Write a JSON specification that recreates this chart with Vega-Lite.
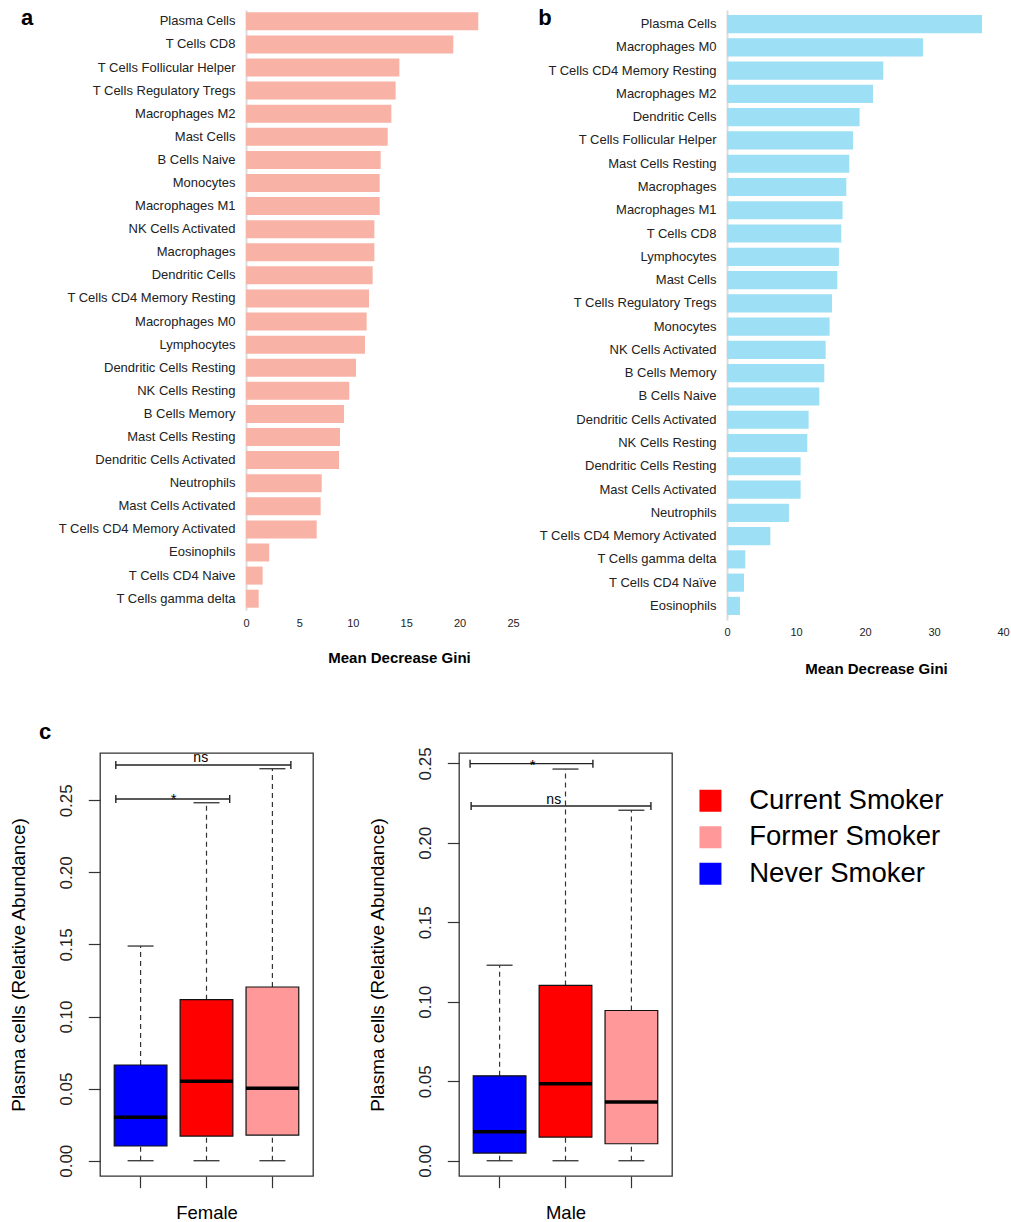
{
  "$schema": "https://vega.github.io/schema/vega-lite/v6.json",
  "padding": {"left": 8, "top": 6, "right": 0, "bottom": 0},
  "config": {
    "font": "Liberation Sans",
    "view": {"stroke": null},
    "axis": {"grid": false},
    "title": {"color": "#000"}
  },
  "datasets": {
    "giniA": [
      {"cell": "Plasma Cells", "gini": 21.75},
      {"cell": "T Cells CD8", "gini": 19.41},
      {"cell": "T Cells Follicular Helper", "gini": 14.36},
      {"cell": "T Cells Regulatory Tregs", "gini": 14.01},
      {"cell": "Macrophages M2", "gini": 13.61},
      {"cell": "Mast Cells", "gini": 13.27},
      {"cell": "B Cells Naive", "gini": 12.61},
      {"cell": "Monocytes", "gini": 12.52},
      {"cell": "Macrophages M1", "gini": 12.52},
      {"cell": "NK Cells Activated", "gini": 12.02},
      {"cell": "Macrophages", "gini": 12.02},
      {"cell": "Dendritic Cells", "gini": 11.86},
      {"cell": "T Cells CD4 Memory Resting", "gini": 11.52},
      {"cell": "Macrophages M0", "gini": 11.30},
      {"cell": "Lymphocytes", "gini": 11.14},
      {"cell": "Dendritic Cells Resting", "gini": 10.30},
      {"cell": "NK Cells Resting", "gini": 9.67},
      {"cell": "B Cells Memory", "gini": 9.18},
      {"cell": "Mast Cells Resting", "gini": 8.80},
      {"cell": "Dendritic Cells Activated", "gini": 8.71},
      {"cell": "Neutrophils", "gini": 7.09},
      {"cell": "Mast Cells Activated", "gini": 6.99},
      {"cell": "T Cells CD4 Memory Activated", "gini": 6.62},
      {"cell": "Eosinophils", "gini": 2.17},
      {"cell": "T Cells CD4 Naive", "gini": 1.56},
      {"cell": "T Cells gamma delta", "gini": 1.19}
    ],
    "giniB": [
      {"cell": "Plasma Cells", "gini": 36.96},
      {"cell": "Macrophages M0", "gini": 28.41},
      {"cell": "T Cells CD4 Memory Resting", "gini": 22.65},
      {"cell": "Macrophages M2", "gini": 21.16},
      {"cell": "Dendritic Cells", "gini": 19.22},
      {"cell": "T Cells Follicular Helper", "gini": 18.26},
      {"cell": "Mast Cells Resting", "gini": 17.72},
      {"cell": "Macrophages", "gini": 17.29},
      {"cell": "Macrophages M1", "gini": 16.75},
      {"cell": "T Cells CD8", "gini": 16.56},
      {"cell": "Lymphocytes", "gini": 16.22},
      {"cell": "Mast Cells", "gini": 15.99},
      {"cell": "T Cells Regulatory Tregs", "gini": 15.22},
      {"cell": "Monocytes", "gini": 14.87},
      {"cell": "NK Cells Activated", "gini": 14.30},
      {"cell": "B Cells Memory", "gini": 14.10},
      {"cell": "B Cells Naive", "gini": 13.38},
      {"cell": "Dendritic Cells Activated", "gini": 11.83},
      {"cell": "NK Cells Resting", "gini": 11.64},
      {"cell": "Dendritic Cells Resting", "gini": 10.67},
      {"cell": "Mast Cells Activated", "gini": 10.67},
      {"cell": "Neutrophils", "gini": 8.98},
      {"cell": "T Cells CD4 Memory Activated", "gini": 6.28},
      {"cell": "T Cells gamma delta", "gini": 2.65},
      {"cell": "T Cells CD4 Naïve", "gini": 2.46},
      {"cell": "Eosinophils", "gini": 1.88}
    ],
    "boxes": [
      {"sex": "Female", "group": "Never Smoker", "min": 0, "q1": 0.0102, "median": 0.0301, "q3": 0.0664, "max": 0.1489},
      {"sex": "Female", "group": "Current Smoker", "min": 0, "q1": 0.0171, "median": 0.0551, "q3": 0.1117, "max": 0.2483},
      {"sex": "Female", "group": "Former Smoker", "min": 0, "q1": 0.0178, "median": 0.0502, "q3": 0.1205, "max": 0.2719},
      {"sex": "Male", "group": "Never Smoker", "min": 0, "q1": 0.0048, "median": 0.0182, "q3": 0.0534, "max": 0.1230},
      {"sex": "Male", "group": "Current Smoker", "min": 0, "q1": 0.0149, "median": 0.0484, "q3": 0.1103, "max": 0.2464},
      {"sex": "Male", "group": "Former Smoker", "min": 0, "q1": 0.0107, "median": 0.0369, "q3": 0.0945, "max": 0.2205}
    ],
    "brackets": [
      {"sex": "Female", "label": "*", "from": "Never Smoker", "to": "Current Smoker", "y": 0.2509},
      {"sex": "Female", "label": "ns", "from": "Never Smoker", "to": "Former Smoker", "y": 0.2745},
      {"sex": "Male", "label": "*", "from": "Never Smoker", "to": "Current Smoker", "y": 0.2498},
      {"sex": "Male", "label": "ns", "from": "Never Smoker", "to": "Former Smoker", "y": 0.2232}
    ]
  },
  "spacing": 44,
  "vconcat": [
    {
      "spacing": 18,
      "resolve": {"scale": {"x": "independent", "y": "independent"}},
      "hconcat": [
        {
          "width": 413,
          "height": 600,
          "data": {"name": "giniA"},
          "title": {"text": "a", "anchor": "start", "frame": "group", "orient": "top", "offset": 0, "dx": -79, "dy": 36.6, "baseline": "alphabetic", "fontSize": 22, "fontWeight": "bold"},
          "mark": {"type": "bar", "color": "#F8B3A6"},
          "encoding": {
            "y": {
              "field": "cell", "type": "nominal", "sort": null,
              "scale": {"paddingInner": 0.22, "paddingOuter": 0.1},
              "axis": {"title": null, "offset": -146, "domainColor": "#dcdcdc", "domainWidth": 2, "ticks": false, "tickSize": 0, "labelPadding": 11, "labelFontSize": 13, "labelColor": "#222", "labelLimit": 0}
            },
            "x": {
              "field": "gini", "type": "quantitative",
              "scale": {"domain": [-13.67, 25], "nice": false, "zero": false},
              "axis": {"title": "Mean Decrease Gini", "values": [0, 5, 10, 15, 20, 25], "domain": false, "ticks": false, "tickSize": 0, "labelPadding": 7.5, "labelFontSize": 11, "labelColor": "#222", "labelFlush": false, "titleFontSize": 15, "titleFontWeight": "bold", "titleColor": "#000", "titleX": 299, "titlePadding": 22}
            },
            "x2": {"datum": 0}
          }
        },
        {
          "width": 276,
          "height": 610,
          "data": {"name": "giniB"},
          "title": {"text": "b", "anchor": "start", "frame": "group", "orient": "top", "offset": 0, "dx": -188.7, "dy": 36.8, "baseline": "alphabetic", "fontSize": 22, "fontWeight": "bold"},
          "mark": {"type": "bar", "color": "#9DDFF5"},
          "encoding": {
            "y": {
              "field": "cell", "type": "nominal", "sort": null,
              "scale": {"paddingInner": 0.22, "paddingOuter": 0.215},
              "axis": {"title": null, "domainColor": "#dcdcdc", "domainWidth": 2, "ticks": false, "tickSize": 0, "labelPadding": 11, "labelFontSize": 13, "labelColor": "#222", "labelLimit": 0}
            },
            "x": {
              "field": "gini", "type": "quantitative",
              "scale": {"domain": [0, 40], "nice": false},
              "axis": {"title": "Mean Decrease Gini", "values": [0, 10, 20, 30, 40], "domain": false, "ticks": false, "tickSize": 0, "labelPadding": 6, "labelFontSize": 11, "labelColor": "#222", "labelFlush": false, "titleFontSize": 15, "titleFontWeight": "bold", "titleColor": "#000", "titleX": 149, "titlePadding": 24}
            },
            "x2": {"datum": 0}
          }
        }
      ]
    },
    {
      "spacing": 53,
      "resolve": {"scale": {"x": "independent", "y": "independent", "color": "independent"}, "legend": {"color": "independent"}},
      "hconcat": [
        {
          "width": 213,
          "height": 423,
          "view": {"stroke": "#333", "strokeWidth": 1.3},
          "title": {"text": "c", "anchor": "start", "frame": "group", "orient": "top", "offset": 0, "dx": -61, "dy": 9.2, "baseline": "alphabetic", "fontSize": 22, "fontWeight": "bold"},
          "layer": [
            {
              "data": {"name": "boxes"},
              "transform": [{"filter": "datum.sex === 'Female'"}],
              "encoding": {
                "x": {
                  "field": "group", "type": "nominal",
                  "scale": {"domain": ["Never Smoker", "Current Smoker", "Former Smoker"], "paddingInner": 0.2, "paddingOuter": 0.216},
                  "axis": {"labels": false, "ticks": true, "tickSize": 11.7, "tickColor": "#333", "tickWidth": 1.2, "domain": false, "title": "Female", "titleFontSize": 18.5, "titleFontWeight": "normal", "titleColor": "#000", "titlePadding": 15}
                }
              },
              "layer": [
                {
                  "mark": {"type": "rule", "strokeDash": [5, 4], "color": "#333", "strokeWidth": 1.2},
                  "encoding": {
                    "y": {
                      "field": "q3", "type": "quantitative",
                      "scale": {"domain": [-0.0106, 0.2828], "nice": false, "zero": false},
                      "axis": {"values": [0, 0.05, 0.1, 0.15, 0.2, 0.25], "format": ".2f", "labelAngle": -90, "labelAlign": "center", "labelBaseline": "bottom", "labelFontSize": 17, "labelColor": "#222", "labelPadding": 13, "labelFlush": false, "tickSize": 11.7, "tickColor": "#333", "tickWidth": 1.2, "domain": false, "title": "Plasma cells (Relative Abundance)", "titleFontSize": 19, "titleFontWeight": "normal", "titleColor": "#000", "titlePadding": 29}
                    },
                    "y2": {"field": "max"}
                  }
                },
                {
                  "mark": {"type": "rule", "strokeDash": [5, 4], "color": "#333", "strokeWidth": 1.2},
                  "encoding": {"y": {"field": "min", "type": "quantitative"}, "y2": {"field": "q1"}}
                },
                {
                  "mark": {"type": "tick", "orient": "horizontal", "size": 26, "thickness": 1.3, "color": "#333", "opacity": 1},
                  "encoding": {"y": {"field": "max", "type": "quantitative"}}
                },
                {
                  "mark": {"type": "tick", "orient": "horizontal", "size": 26, "thickness": 1.3, "color": "#333", "opacity": 1},
                  "encoding": {"y": {"field": "min", "type": "quantitative"}}
                },
                {
                  "mark": {"type": "bar", "stroke": "#111", "strokeWidth": 1.2, "opacity": 1},
                  "encoding": {
                    "y": {"field": "q1", "type": "quantitative"},
                    "y2": {"field": "q3"},
                    "color": {"field": "group", "type": "nominal", "scale": {"domain": ["Current Smoker", "Former Smoker", "Never Smoker"], "range": ["#FF0000", "#FF9999", "#0000FF"]}, "legend": null}
                  }
                },
                {
                  "mark": {"type": "tick", "orient": "horizontal", "size": 53, "thickness": 3.5, "color": "#000", "opacity": 1},
                  "encoding": {"y": {"field": "median", "type": "quantitative"}}
                }
              ]
            },
            {
              "data": {"name": "brackets"},
              "transform": [{"filter": "datum.sex === 'Female' && datum.label === '*'"}],
              "layer": [
                {
                  "mark": {"type": "rule", "color": "#222", "strokeWidth": 1.4},
                  "encoding": {
                    "x": {"field": "from", "type": "nominal", "bandPosition": 0.03},
                    "x2": {"field": "to", "bandPosition": 0.94},
                    "y": {"field": "y", "type": "quantitative"}
                  }
                },
                {
                  "mark": {"type": "tick", "orient": "vertical", "size": 8, "thickness": 1.4, "color": "#222", "opacity": 1},
                  "encoding": {"x": {"field": "from", "type": "nominal", "bandPosition": 0.03}, "y": {"field": "y", "type": "quantitative"}}
                },
                {
                  "mark": {"type": "tick", "orient": "vertical", "size": 8, "thickness": 1.4, "color": "#222", "opacity": 1},
                  "encoding": {"x": {"field": "to", "type": "nominal", "bandPosition": 0.94}, "y": {"field": "y", "type": "quantitative"}}
                },
                {
                  "mark": {"type": "text", "fontSize": 15, "dx": 59.5, "dy": 5, "baseline": "alphabetic", "align": "center", "color": "#000"},
                  "encoding": {"x": {"field": "from", "type": "nominal", "bandPosition": 0}, "y": {"field": "y", "type": "quantitative"}, "text": {"field": "label"}}
                }
              ]
            },
            {
              "data": {"name": "brackets"},
              "transform": [{"filter": "datum.sex === 'Female' && datum.label === 'ns'"}],
              "layer": [
                {
                  "mark": {"type": "rule", "color": "#222", "strokeWidth": 1.4},
                  "encoding": {
                    "x": {"field": "from", "type": "nominal", "bandPosition": 0.03},
                    "x2": {"field": "to", "bandPosition": 0.85},
                    "y": {"field": "y", "type": "quantitative"}
                  }
                },
                {
                  "mark": {"type": "tick", "orient": "vertical", "size": 8, "thickness": 1.4, "color": "#222", "opacity": 1},
                  "encoding": {"x": {"field": "from", "type": "nominal", "bandPosition": 0.03}, "y": {"field": "y", "type": "quantitative"}}
                },
                {
                  "mark": {"type": "tick", "orient": "vertical", "size": 8, "thickness": 1.4, "color": "#222", "opacity": 1},
                  "encoding": {"x": {"field": "to", "type": "nominal", "bandPosition": 0.85}, "y": {"field": "y", "type": "quantitative"}}
                },
                {
                  "mark": {"type": "text", "fontSize": 14, "dx": 86.5, "dy": -2.5, "baseline": "alphabetic", "align": "center", "color": "#000"},
                  "encoding": {"x": {"field": "from", "type": "nominal", "bandPosition": 0}, "y": {"field": "y", "type": "quantitative"}, "text": {"field": "label"}}
                }
              ]
            }
          ]
        },
        {
          "width": 213,
          "height": 423,
          "view": {"stroke": "#333", "strokeWidth": 1.3},
          "layer": [
            {
              "data": {"name": "boxes"},
              "transform": [{"filter": "datum.sex === 'Male'"}],
              "encoding": {
                "x": {
                  "field": "group", "type": "nominal",
                  "scale": {"domain": ["Never Smoker", "Current Smoker", "Former Smoker"], "paddingInner": 0.2, "paddingOuter": 0.216},
                  "axis": {"labels": false, "ticks": true, "tickSize": 11.7, "tickColor": "#333", "tickWidth": 1.2, "domain": false, "title": "Male", "titleFontSize": 18.5, "titleFontWeight": "normal", "titleColor": "#000", "titlePadding": 15}
                }
              },
              "layer": [
                {
                  "mark": {"type": "rule", "strokeDash": [5, 4], "color": "#333", "strokeWidth": 1.2},
                  "encoding": {
                    "y": {
                      "field": "q3", "type": "quantitative",
                      "scale": {"domain": [-0.0096, 0.2565], "nice": false, "zero": false},
                      "axis": {"values": [0, 0.05, 0.1, 0.15, 0.2, 0.25], "format": ".2f", "labelAngle": -90, "labelAlign": "center", "labelBaseline": "bottom", "labelFontSize": 17, "labelColor": "#222", "labelPadding": 13, "labelFlush": false, "tickSize": 11.7, "tickColor": "#333", "tickWidth": 1.2, "domain": false, "title": "Plasma cells (Relative Abundance)", "titleFontSize": 19, "titleFontWeight": "normal", "titleColor": "#000", "titlePadding": 29}
                    },
                    "y2": {"field": "max"}
                  }
                },
                {
                  "mark": {"type": "rule", "strokeDash": [5, 4], "color": "#333", "strokeWidth": 1.2},
                  "encoding": {"y": {"field": "min", "type": "quantitative"}, "y2": {"field": "q1"}}
                },
                {
                  "mark": {"type": "tick", "orient": "horizontal", "size": 26, "thickness": 1.3, "color": "#333", "opacity": 1},
                  "encoding": {"y": {"field": "max", "type": "quantitative"}}
                },
                {
                  "mark": {"type": "tick", "orient": "horizontal", "size": 26, "thickness": 1.3, "color": "#333", "opacity": 1},
                  "encoding": {"y": {"field": "min", "type": "quantitative"}}
                },
                {
                  "mark": {"type": "bar", "stroke": "#111", "strokeWidth": 1.2, "opacity": 1},
                  "encoding": {
                    "y": {"field": "q1", "type": "quantitative"},
                    "y2": {"field": "q3"},
                    "color": {
                      "field": "group", "type": "nominal",
                      "scale": {"domain": ["Current Smoker", "Former Smoker", "Never Smoker"], "range": ["#FF0000", "#FF9999", "#0000FF"]},
                      "legend": {"orient": "none", "legendX": 237.7, "legendY": 34, "title": null, "symbolType": "square", "symbolSize": 484, "symbolStrokeWidth": 0, "symbolOpacity": 1, "labelFontSize": 27.5, "labelColor": "#000", "labelOffset": 25, "rowPadding": 7.5, "padding": 0, "labelLimit": 0}
                    }
                  }
                },
                {
                  "mark": {"type": "tick", "orient": "horizontal", "size": 53, "thickness": 3.5, "color": "#000", "opacity": 1},
                  "encoding": {"y": {"field": "median", "type": "quantitative"}}
                }
              ]
            },
            {
              "data": {"name": "brackets"},
              "transform": [{"filter": "datum.sex === 'Male' && datum.label === '*'"}],
              "layer": [
                {
                  "mark": {"type": "rule", "color": "#222", "strokeWidth": 1.4},
                  "encoding": {
                    "x": {"field": "from", "type": "nominal", "bandPosition": -0.06},
                    "x2": {"field": "to", "bandPosition": 1.02},
                    "y": {"field": "y", "type": "quantitative"}
                  }
                },
                {
                  "mark": {"type": "tick", "orient": "vertical", "size": 8, "thickness": 1.4, "color": "#222", "opacity": 1},
                  "encoding": {"x": {"field": "from", "type": "nominal", "bandPosition": -0.06}, "y": {"field": "y", "type": "quantitative"}}
                },
                {
                  "mark": {"type": "tick", "orient": "vertical", "size": 8, "thickness": 1.4, "color": "#222", "opacity": 1},
                  "encoding": {"x": {"field": "to", "type": "nominal", "bandPosition": 1.02}, "y": {"field": "y", "type": "quantitative"}}
                },
                {
                  "mark": {"type": "text", "fontSize": 15, "dx": 59.4, "dy": 6, "baseline": "alphabetic", "align": "center", "color": "#000"},
                  "encoding": {"x": {"field": "from", "type": "nominal", "bandPosition": 0}, "y": {"field": "y", "type": "quantitative"}, "text": {"field": "label"}}
                }
              ]
            },
            {
              "data": {"name": "brackets"},
              "transform": [{"filter": "datum.sex === 'Male' && datum.label === 'ns'"}],
              "layer": [
                {
                  "mark": {"type": "rule", "color": "#222", "strokeWidth": 1.4},
                  "encoding": {
                    "x": {"field": "from", "type": "nominal", "bandPosition": -0.04},
                    "x2": {"field": "to", "bandPosition": 0.87},
                    "y": {"field": "y", "type": "quantitative"}
                  }
                },
                {
                  "mark": {"type": "tick", "orient": "vertical", "size": 8, "thickness": 1.4, "color": "#222", "opacity": 1},
                  "encoding": {"x": {"field": "from", "type": "nominal", "bandPosition": -0.04}, "y": {"field": "y", "type": "quantitative"}}
                },
                {
                  "mark": {"type": "tick", "orient": "vertical", "size": 8, "thickness": 1.4, "color": "#222", "opacity": 1},
                  "encoding": {"x": {"field": "to", "type": "nominal", "bandPosition": 0.87}, "y": {"field": "y", "type": "quantitative"}}
                },
                {
                  "mark": {"type": "text", "fontSize": 14, "dx": 80.5, "dy": -2, "baseline": "alphabetic", "align": "center", "color": "#000"},
                  "encoding": {"x": {"field": "from", "type": "nominal", "bandPosition": 0}, "y": {"field": "y", "type": "quantitative"}, "text": {"field": "label"}}
                }
              ]
            }
          ]
        }
      ]
    }
  ]
}
